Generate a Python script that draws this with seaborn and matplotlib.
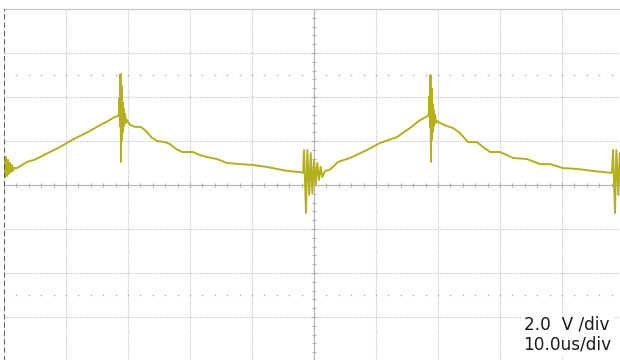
import numpy as np
import matplotlib
matplotlib.use("Agg")
import matplotlib.pyplot as plt
import seaborn as sns

# Oszilloskop-Aufnahme: 10 us/div, 2 V/div
tiempo_us = [
    0.00, 0.16, 0.32, 0.48, 0.65, 0.81, 0.97, 1.13, 1.29, 1.45, 1.61, 2.10,
    2.90, 3.71, 4.84, 5.81, 7.42, 8.71, 9.84, 10.97, 12.26, 13.55, 14.68,
    15.81, 16.77, 17.58, 18.39,
    18.55, 18.63, 18.71, 18.79, 18.87, 18.95, 19.03, 19.11, 19.19, 19.27,
    19.35, 19.52, 19.68, 19.84,
    20.32, 21.13, 22.10, 22.90, 23.87, 24.68, 25.97, 26.77, 27.74, 28.71,
    30.48, 31.61, 32.74, 34.35, 35.97, 38.06, 40.16, 42.42, 44.03, 45.65,
    47.74, 48.23,
    48.39, 48.71, 48.92, 49.24, 49.47, 49.73, 50.00, 50.27, 50.53, 50.81,
    51.08, 51.34, 51.77, 52.42,
    53.06, 53.87, 55.81, 58.55, 60.65, 63.39, 65.48, 67.10, 68.39,
    68.55, 68.63, 68.71, 68.79, 68.87, 68.95, 69.03, 69.11, 69.19, 69.27,
    69.35, 69.52, 69.68, 69.84,
    70.32, 71.45, 72.42, 73.55, 74.84, 76.29, 77.26, 78.39, 80.00, 81.13,
    82.10, 84.35, 86.45, 88.06, 90.16, 92.42, 94.97, 98.06,
    98.23, 98.55, 98.76, 99.08, 99.31, 99.56, 99.84,
]
voltaje_v = [
    1.14, 0.36, 1.27, 0.41, 1.14, 0.50, 1.00, 0.59, 0.91, 0.64, 0.77, 0.77,
    0.91, 1.05, 1.14, 1.27, 1.50, 1.68, 1.86, 2.05, 2.23, 2.41, 2.59,
    2.77, 2.91, 3.05, 3.14,
    3.27, 3.95, 2.68, 5.05, 1.05, 4.50, 2.05, 3.77, 2.41, 3.50,
    2.68, 3.23, 2.82, 2.95,
    2.73, 2.64, 2.64, 2.45, 2.14, 2.00, 1.95, 1.86, 1.64, 1.50,
    1.50, 1.36, 1.27, 1.18, 1.00, 0.95, 0.91, 0.82, 0.73, 0.64,
    0.59, 0.55,
    1.59, -1.27, 1.59, -0.45, 1.45, -0.36, 1.14, 0.00, 1.00, 0.23,
    0.82, 0.36, 0.64, 0.68,
    0.82, 1.05, 1.23, 1.59, 1.91, 2.18, 2.59, 2.95, 3.14,
    3.32, 4.05, 2.64, 5.00, 1.05, 4.41, 2.05, 3.68, 2.41, 3.41,
    2.68, 3.18, 2.82, 2.91,
    2.82, 2.68, 2.59, 2.36, 1.95, 1.95, 1.73, 1.50, 1.50, 1.36,
    1.23, 1.18, 0.95, 0.95, 0.77, 0.73, 0.64, 0.55,
    1.59, -1.27, 1.59, -0.45, 1.45, -0.36, 1.14,
]
escala_v = "2.0  V /div"
escala_t = "10.0us/div"

sns.set_style("white")
plt.rcParams['font.family'] = ['DejaVu Sans']

fig = plt.figure(figsize=(6.2, 3.6), dpi=100)
ax = fig.add_axes([4 / 620, -1 / 360, 620 / 620, 352 / 360])

# la traza
sns.lineplot(x=tiempo_us, y=voltaje_v, sort=False, estimator=None,
             color="#b3b01c", linewidth=1.4, ax=ax, zorder=5)

ax.set_xlim(0, 100)
ax.set_ylim(-8, 8)
ax.set_xticks(np.arange(0, 101, 10))
ax.set_yticks(np.arange(-8, 8.1, 2))
ax.set_xticks(np.arange(0, 101, 2), minor=True)
ax.set_yticks(np.arange(-8, 8.1, 0.4), minor=True)
ax.grid(True, which="major", color="#c4c4c4", linestyle=(0, (1, 1)), linewidth=0.8)
ax.tick_params(which="both", bottom=True, left=True, top=False, right=False,
               labelbottom=False, labelleft=False,
               direction="inout", color="#b0b0b0", width=0.8)
ax.tick_params(which="major", length=4)
ax.tick_params(which="minor", length=3.5)

# ejes centrales con marcas
ax.spines["left"].set_position(("data", 50))
ax.spines["bottom"].set_position(("data", 0))
ax.spines["left"].set_color("#b4b4b4")
ax.spines["bottom"].set_color("#b4b4b4")
ax.spines["top"].set_color("#c4c4c4")
ax.spines["right"].set_visible(False)
for s in ["left", "bottom", "top"]:
    ax.spines[s].set_linewidth(0.8)

# borde izquierdo punteado
ax.axvline(0, color="#404040", linestyle=(0, (3, 2)), linewidth=1.2, zorder=6)

# filas de puntos en +-2.5 div
puntos_t = np.arange(2, 100, 2)
for nivel in [5, -5]:
    ax.plot(puntos_t, np.full(len(puntos_t), nivel), linestyle="none",
            marker="s", markersize=1.1, color="#b8b8b8", markeredgewidth=0)

ax.text(83.8, -5.95, escala_v + "\n" + escala_t, fontsize=12.2, color="#1a1a1a",
        ha="left", va="top", linespacing=1.12, zorder=7,
        bbox=dict(facecolor="white", edgecolor="none", pad=1.5))

fig.savefig("out.png", dpi=100)
